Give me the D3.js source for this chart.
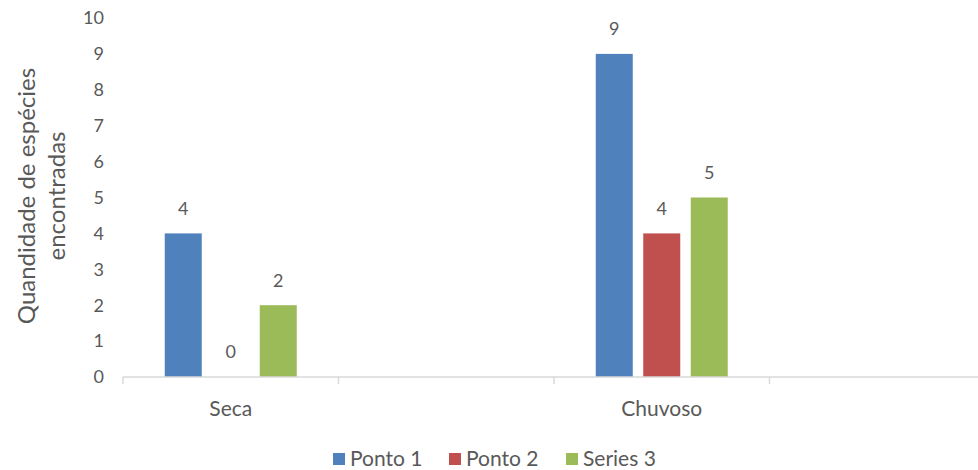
<!DOCTYPE html>
<html>
<head>
<meta charset="utf-8">
<script src="https://cdn.jsdelivr.net/npm/d3@7"></script>
<style>
  body { margin: 0; background: #fff; }
  svg text { font-family: Lato, "Open Sans", sans-serif; fill: #595959; }
</style>
</head>
<body>
<svg id="chart" width="978" height="470"></svg>
<script>
// data
const categories = ['Seca', '', 'Chuvoso', ' '];
const seriesNames = ['Ponto 1', 'Ponto 2', 'Series 3'];
const ponto1 = [4, null, 9, null];
const ponto2 = [0, null, 4, null];
const series3 = [2, null, 5, null];
const yTicks = [0, 1, 2, 3, 4, 5, 6, 7, 8, 9, 10];

const COLORS = ['#4f81bd', '#c0504d', '#9bbb59'];
const MARGIN = { top: 18, left: 123, bottom: 93 };
const W = 978, H = 470;
const plotRight = 985;

const svg = d3.select('#chart');
const allSeries = [ponto1, ponto2, series3];

const x = d3.scaleBand().domain(categories).range([MARGIN.left, plotRight]);
const x1 = d3.scaleBand().domain(seriesNames);
const y = d3.scaleLinear().domain([0, 10]).range([H - MARGIN.bottom, MARGIN.top]);

// inner band: bar width ~37, step ~47.5
const barW = 37, step = 47.5;
x1.range([x.bandwidth() / 2 - step * 1.5, x.bandwidth() / 2 + step * 1.5]);

// y tick labels
svg.append('g')
  .selectAll('text')
  .data(yTicks)
  .join('text')
  .attr('x', 104)
  .attr('y', d => y(d))
  .attr('dy', '0.35em')
  .attr('text-anchor', 'end')
  .style('font-size', '18px')
  .text(d => d);

// bars
const groups = svg.append('g')
  .selectAll('g')
  .data(categories)
  .join('g')
  .attr('transform', d => 'translate(' + x(d) + ',0)');

groups.each(function (cat, ci) {
  const g = d3.select(this);
  seriesNames.forEach((s, si) => {
    const v = allSeries[si][ci];
    if (v == null) return;
    const cx = x1(s) + x1.bandwidth() / 2;
    g.append('rect')
      .attr('x', cx - barW / 2)
      .attr('y', y(v))
      .attr('width', barW)
      .attr('height', y(0) - y(v))
      .attr('fill', COLORS[si]);
    g.append('text')
      .attr('x', cx)
      .attr('y', y(v) - 25)
      .attr('dy', '0.35em')
      .attr('text-anchor', 'middle')
      .style('font-size', '18px')
      .text(v);
  });
});

// x axis
const axisY = y(0);
svg.append('line')
  .attr('x1', MARGIN.left).attr('x2', plotRight)
  .attr('y1', axisY).attr('y2', axisY)
  .attr('stroke', '#d9d9d9').attr('stroke-width', 1.5);

const bounds = categories.map(c => x(c)).concat([plotRight]);
svg.append('g')
  .selectAll('line')
  .data(bounds)
  .join('line')
  .attr('x1', d => d).attr('x2', d => d)
  .attr('y1', axisY).attr('y2', axisY + 7)
  .attr('stroke', '#d9d9d9').attr('stroke-width', 1.5);

svg.append('g')
  .selectAll('text')
  .data(categories)
  .join('text')
  .attr('x', d => x(d) + x.bandwidth() / 2)
  .attr('y', 409)
  .attr('dy', '0.35em')
  .attr('text-anchor', 'middle')
  .style('font-size', '21px')
  .text(d => d.trim());

// y axis title
const title = svg.append('text')
  .attr('transform', 'translate(42,' + 196 + ') rotate(-90)')
  .attr('text-anchor', 'middle')
  .style('font-size', '24px');
title.append('tspan').attr('x', 0).attr('dy', '-0.3em').text('Quandidade de espécies');
title.append('tspan').attr('x', 0).attr('dy', '1.25em').text('encontradas');

// legend
const legendX = [333, 449, 566];
const legend = svg.append('g')
  .selectAll('g')
  .data(seriesNames)
  .join('g')
  .attr('transform', (d, i) => 'translate(' + legendX[i] + ',453)');
legend.append('rect')
  .attr('width', 12).attr('height', 12)
  .attr('fill', (d, i) => COLORS[i]);
legend.append('text')
  .attr('x', 17).attr('y', 6)
  .attr('dy', '0.35em')
  .style('font-size', '21px')
  .text(d => d);
</script>
</body>
</html>
